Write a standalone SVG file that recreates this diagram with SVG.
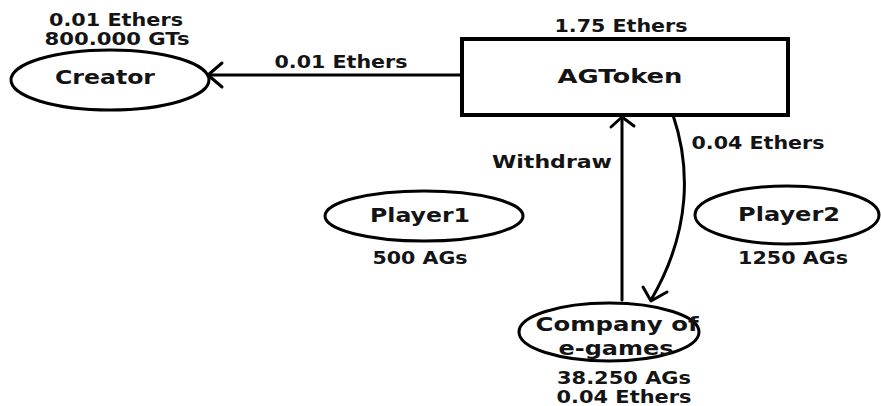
<svg xmlns="http://www.w3.org/2000/svg" width="881" height="406" viewBox="0 0 881 406">
  <style>
    .shape { fill: none; stroke: #000; stroke-width: 3; }
    .box { fill: none; stroke: #000; stroke-width: 4; }
    .wire { fill: none; stroke: #000; stroke-width: 3; stroke-linecap: round; stroke-linejoin: round; }
    .label { font-family: "DejaVu Sans", Verdana, sans-serif; font-weight: bold; font-size: 20px; fill: #141414; text-anchor: middle; }
    .note { font-family: "DejaVu Sans", Verdana, sans-serif; font-weight: bold; font-size: 17px; fill: #141414; text-anchor: middle; }
  </style>
  <rect width="881" height="406" fill="#fff"/>

  <!-- connectors -->
  <g id="connectors">
    <!-- AGToken pays the creator -->
    <g id="edge-agtoken-creator">
      <line class="wire" x1="461" y1="75" x2="209" y2="75"/>
      <polyline class="wire" points="222,63 208,75 222,87"/>
      <text class="note" x="341" y="68" textLength="133" lengthAdjust="spacingAndGlyphs">0.01 Ethers</text>
    </g>
    <!-- withdraw from the company to AGToken -->
    <g id="edge-company-agtoken">
      <line class="wire" x1="622" y1="300" x2="622" y2="118"/>
      <polyline class="wire" points="611,127 622,117 634,126"/>
      <text class="note" x="552" y="168" textLength="120" lengthAdjust="spacingAndGlyphs">Withdraw</text>
    </g>
    <!-- AGToken sends ethers to the company -->
    <g id="edge-agtoken-company">
      <path class="wire" d="M673,115 C690,165 692,230 651,300"/>
      <polyline class="wire" points="643,287 651,301 667,292"/>
      <text class="note" x="758" y="149" textLength="133" lengthAdjust="spacingAndGlyphs">0.04 Ethers</text>
    </g>
  </g>

  <!-- nodes -->
  <g id="creator">
    <ellipse class="shape" cx="110" cy="80" rx="99" ry="30"/>
    <text class="label" x="105" y="84" textLength="100" lengthAdjust="spacingAndGlyphs">Creator</text>
    <text class="note" x="116" y="26" textLength="134" lengthAdjust="spacingAndGlyphs">0.01 Ethers</text>
    <text class="note" x="117" y="45" textLength="145" lengthAdjust="spacingAndGlyphs">800.000 GTs</text>
  </g>

  <g id="agtoken">
    <rect class="box" x="462" y="39" width="326" height="76"/>
    <text class="label" x="620" y="83" textLength="125" lengthAdjust="spacingAndGlyphs">AGToken</text>
    <text class="note" x="621" y="32" textLength="133" lengthAdjust="spacingAndGlyphs">1.75 Ethers</text>
  </g>

  <g id="player1">
    <ellipse class="shape" cx="424" cy="216" rx="99" ry="25"/>
    <text class="label" x="420" y="222" textLength="100" lengthAdjust="spacingAndGlyphs">Player1</text>
    <text class="note" x="420" y="264" textLength="95" lengthAdjust="spacingAndGlyphs">500 AGs</text>
  </g>

  <g id="player2">
    <ellipse class="shape" cx="787" cy="215" rx="92" ry="29"/>
    <text class="label" x="789" y="221" textLength="102" lengthAdjust="spacingAndGlyphs">Player2</text>
    <text class="note" x="793" y="264" textLength="110" lengthAdjust="spacingAndGlyphs">1250 AGs</text>
  </g>

  <g id="company">
    <ellipse class="shape" cx="609" cy="332" rx="90" ry="29"/>
    <text class="label" x="617" y="331" textLength="163" lengthAdjust="spacingAndGlyphs">Company of</text>
    <text class="label" x="616" y="355" textLength="115" lengthAdjust="spacingAndGlyphs">e-games</text>
    <text class="note" x="624" y="384" textLength="134" lengthAdjust="spacingAndGlyphs">38.250 AGs</text>
    <text class="note" x="624" y="403" textLength="135" lengthAdjust="spacingAndGlyphs">0.04 Ethers</text>
  </g>
</svg>
